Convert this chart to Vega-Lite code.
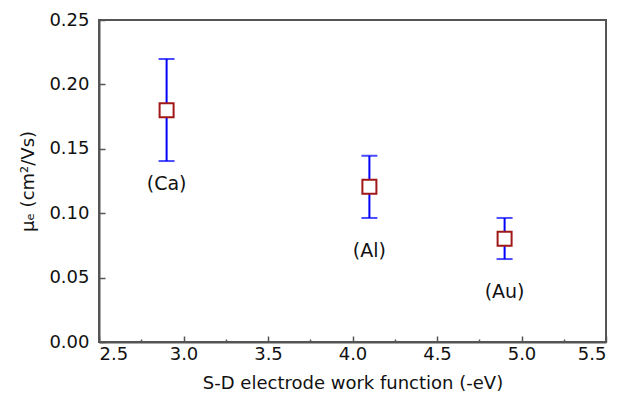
{
  "$schema": "https://vega.github.io/schema/vega-lite/v6.json",
  "autosize": "none",
  "width": 507,
  "height": 322,
  "padding": {"left": 99, "top": 20, "right": 18, "bottom": 57},
  "background": "white",
  "config": {
    "view": {"stroke": "#555555", "strokeWidth": 2},
    "font": "DejaVu Sans",
    "axis": {
      "grid": false,
      "domainColor": "#555555",
      "domainWidth": 2,
      "tickColor": "#555555",
      "tickWidth": 1.5,
      "labelFont": "DejaVu Sans",
      "labelColor": "#111111",
      "labelFontSize": 18,
      "titleFont": "DejaVu Sans",
      "titleFontWeight": "normal",
      "titleFontSize": 18,
      "titleColor": "#111111"
    }
  },
  "data": {
    "values": [
      {"wf": 2.9, "mu": 0.18, "lo": 0.1405, "hi": 0.2197, "label": "(Ca)", "ly": 0.1225},
      {"wf": 4.1, "mu": 0.1205, "lo": 0.0963, "hi": 0.1446, "label": "(Al)", "ly": 0.0705},
      {"wf": 4.9, "mu": 0.0802, "lo": 0.0644, "hi": 0.0963, "label": "(Au)", "ly": 0.039}
    ]
  },
  "encoding": {
    "x": {
      "field": "wf", "type": "quantitative",
      "scale": {"domain": [2.5, 5.5], "nice": false, "zero": false},
      "axis": {
        "title": "S-D electrode work function (-eV)",
        "values": [2.5, 2.75, 3.0, 3.25, 3.5, 3.75, 4.0, 4.25, 4.5, 4.75, 5.0, 5.25, 5.5],
        "labelExpr": "abs(datum.value*2 - round(datum.value*2)) < 0.001 ? format(datum.value, '.1f') : ''",
        "tickSize": {"condition": {"test": "abs(datum.value*2 - round(datum.value*2)) < 0.001", "value": -6}, "value": -3},
        "labelPadding": 9,
        "titlePadding": 11
      }
    }
  },
  "layer": [
    {
      "mark": {"type": "rule", "color": "#0000ff", "strokeWidth": 2},
      "encoding": {
        "y": {
          "field": "lo", "type": "quantitative",
          "scale": {"domain": [0, 0.25], "nice": false},
          "axis": {
            "title": "μₑ (cm²/Vs)",
            "values": [0, 0.025, 0.05, 0.075, 0.1, 0.125, 0.15, 0.175, 0.2, 0.225, 0.25],
            "labelExpr": "abs(datum.value*20 - round(datum.value*20)) < 0.001 ? format(datum.value, '.2f') : ''",
            "tickSize": {"condition": {"test": "abs(datum.value*20 - round(datum.value*20)) < 0.001", "value": -6}, "value": -3},
            "labelPadding": 16,
            "titlePadding": 11
          }
        },
        "y2": {"field": "hi"}
      }
    },
    {
      "mark": {"type": "tick", "orient": "horizontal", "color": "#0000ff", "size": 16, "thickness": 2},
      "encoding": {"y": {"field": "lo", "type": "quantitative"}}
    },
    {
      "mark": {"type": "tick", "orient": "horizontal", "color": "#0000ff", "size": 16, "thickness": 2},
      "encoding": {"y": {"field": "hi", "type": "quantitative"}}
    },
    {
      "mark": {"type": "point", "shape": "square", "size": 196, "filled": true, "fill": "white", "stroke": "#a01818", "strokeWidth": 2, "opacity": 1},
      "encoding": {"y": {"field": "mu", "type": "quantitative"}}
    },
    {
      "mark": {"type": "text", "fontSize": 19, "color": "#111111", "baseline": "middle", "align": "center"},
      "encoding": {
        "y": {"field": "ly", "type": "quantitative"},
        "text": {"field": "label"}
      }
    }
  ]
}
